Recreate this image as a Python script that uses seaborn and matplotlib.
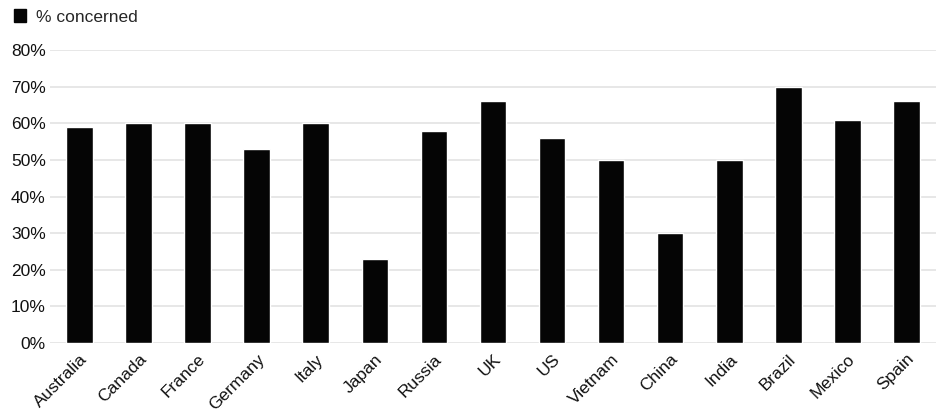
import numpy as np
import pandas as pd
import matplotlib
matplotlib.use("Agg")
import matplotlib.pyplot as plt
import seaborn as sns
from matplotlib.patches import Patch
from matplotlib.ticker import PercentFormatter

countries = ["Australia", "Canada", "France", "Germany", "Italy", "Japan", "Russia",
             "UK", "US", "Vietnam", "China", "India", "Brazil", "Mexico", "Spain"]
concerned = [59, 60, 60, 53, 60, 23, 58, 66, 56, 50, 30, 50, 70, 61, 66]
series_name = "% concerned"

sns.set_style("white")
plt.rcParams["font.family"] = ["Liberation Sans", "DejaVu Sans"]

df = pd.DataFrame({"country": countries, "value": concerned})

fig = plt.figure(figsize=(9.36, 4.15), dpi=100)
ax = fig.add_axes([0.0534, 0.1735, 0.9466, 0.706])

sns.barplot(data=df, x="country", y="value", color="#050505", width=0.45,
            saturation=1, ax=ax, zorder=3)

ax.set_ylim(0, 80)
ax.set_yticks(np.arange(0, 81, 10))
ax.yaxis.set_major_formatter(PercentFormatter(decimals=0))
ax.set_xlim(-0.5, len(countries) - 0.5)
ax.grid(axis="y", color="#e3e3e3", linewidth=1.2, zorder=0)
ax.set_axisbelow(True)
for s in ax.spines.values():
    s.set_visible(False)
ax.set_xlabel("")
ax.set_ylabel("")
ax.tick_params(axis="both", length=0, labelsize=12.5, colors="#111111")
ax.tick_params(axis="y", pad=3)
ax.tick_params(axis="x", pad=6)
plt.setp(ax.get_xticklabels(), rotation=45, ha="right", rotation_mode="anchor")

fig.legend(handles=[Patch(color="#050505", label=series_name)], loc="upper left",
           bbox_to_anchor=(-0.002, 1.015), frameon=False, fontsize=12.5,
           handlelength=0.7, handleheight=0.7, handletextpad=0.6)

fig.savefig("out.png", dpi=100)
